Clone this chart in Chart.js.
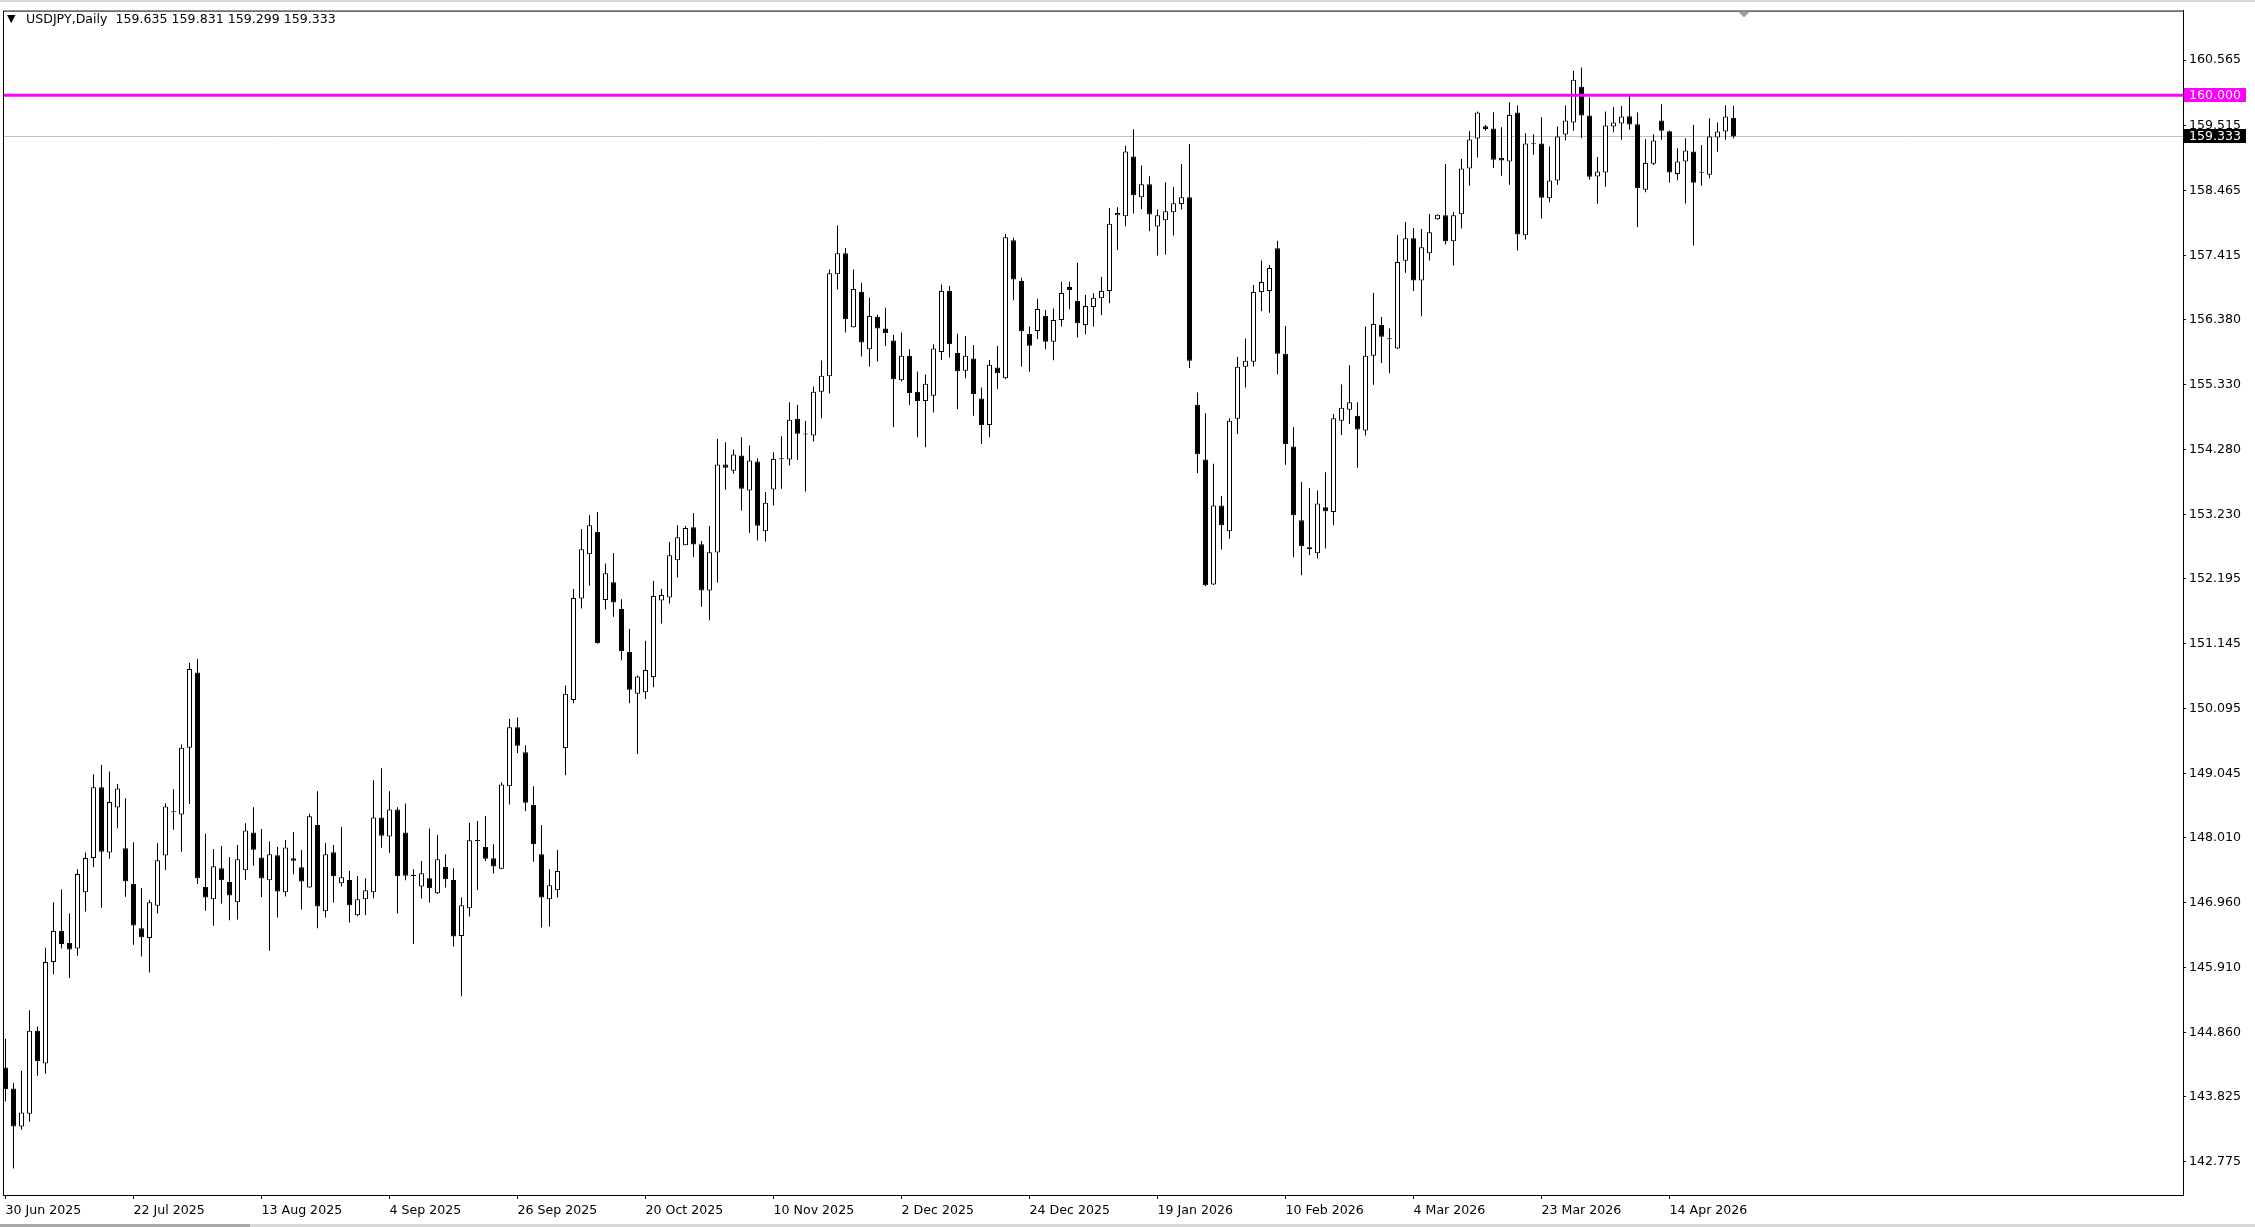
<!DOCTYPE html>
<html>
<head>
<meta charset="utf-8">
<title>USDJPY,Daily</title>
<script src="https://cdn.jsdelivr.net/npm/chart.js@4.4.1/dist/chart.umd.min.js"></script>
<style>
  html, body { margin: 0; padding: 0; background: #fff; overflow: hidden; }
  #wrap { position: relative; width: 2255px; height: 1227px; }
  #hdr { position: absolute; left: 7px; top: 11px; font: 12.6px "DejaVu Sans", sans-serif; color: #000; white-space: pre; }
  #hdr .tri { font-size: 11px; display: inline-block; width: 19px; position: relative; top: -1px; }
</style>
</head>
<body>
<div id="wrap">
  <canvas id="c" width="2255" height="1227"></canvas>
  <div id="hdr"><span class="tri">▼</span>USDJPY,Daily  159.635 159.831 159.299 159.333</div>
</div>
<script>
// Daily bars, 30 Jun 2025 .. 24 Apr 2026
const O = [
  144.296,143.956,143.343,143.551,144.891,144.361,145.999,146.499,146.309,146.219,
  147.125,147.679,148.822,147.768,148.495,147.839,147.262,146.547,146.386,146.910,
  147.720,148.430,148.381,149.459,150.674,147.213,147.014,147.513,147.293,146.966,
  147.481,148.093,147.690,147.320,147.723,147.127,147.674,147.529,147.202,148.211,
  146.821,147.771,147.272,147.325,146.756,147.014,147.127,148.334,148.029,148.463,
  148.093,147.400,147.218,147.353,147.111,147.535,147.326,146.419,146.870,147.960,
  147.857,147.675,147.508,148.840,149.790,149.387,148.534,147.739,147.015,147.159,
  149.457,150.230,151.872,152.586,152.946,151.845,152.135,151.700,151.008,150.331,
  150.358,150.605,151.840,151.888,152.489,152.731,153.021,152.747,152.000,152.613,
  154.035,153.933,154.180,153.616,154.083,152.956,153.633,154.120,154.116,154.776,
  154.518,154.502,155.210,155.462,157.110,157.448,156.251,156.826,155.897,156.423,
  156.230,156.037,155.398,155.790,155.210,155.060,155.146,155.854,156.837,155.838,
  155.548,155.747,155.103,154.673,155.602,155.430,157.659,156.998,156.145,156.193,
  156.435,156.016,156.370,156.902,156.676,156.290,156.580,156.719,156.837,158.061,
  158.045,159.011,158.351,158.560,157.879,157.981,158.109,158.244,158.351,155.000,
  154.116,152.098,153.375,152.956,154.776,155.613,155.694,156.821,156.837,157.530,
  155.823,154.325,153.134,152.699,152.602,153.343,153.268,154.744,154.921,154.824,
  154.583,155.791,156.290,156.060,155.909,157.326,157.690,157.008,157.448,157.996,
  158.060,157.642,158.077,158.817,159.300,159.499,159.461,158.984,158.930,159.719,
  157.738,159.210,159.220,158.334,158.624,159.365,159.558,160.138,159.671,158.688,
  158.753,159.494,159.542,159.661,159.532,158.474,158.893,159.591,159.419,158.727,
  158.930,159.092,158.750,158.716,159.317,159.414,159.635
];
const H = [
  144.760,144.045,144.242,145.219,144.957,146.231,146.964,147.172,146.785,147.500,
  147.768,149.031,149.185,149.078,148.876,148.643,147.935,147.196,147.006,147.917,
  148.566,148.792,149.513,150.835,150.895,148.071,147.825,147.873,147.696,147.889,
  148.243,148.501,148.147,147.948,147.857,147.969,148.098,147.808,148.394,148.759,
  147.921,147.889,148.179,147.470,147.390,147.352,148.936,149.129,148.759,148.501,
  148.560,147.498,147.632,148.158,148.051,147.739,147.514,147.041,148.249,148.276,
  148.357,147.900,148.904,149.924,149.951,149.500,148.840,148.212,147.498,147.809,
  150.466,152.023,152.994,153.214,153.268,152.436,152.607,151.861,151.384,150.627,
  151.190,152.156,152.028,152.784,153.053,153.042,153.251,152.801,153.042,154.448,
  154.395,154.277,154.475,154.341,154.137,153.590,154.234,154.491,155.039,155.001,
  154.744,155.296,155.715,157.185,157.894,157.534,157.185,156.971,156.729,156.455,
  156.568,156.128,156.166,155.897,155.538,155.489,155.978,156.944,156.917,156.149,
  156.112,155.967,155.280,155.725,155.951,157.760,157.696,157.052,156.263,156.714,
  156.531,156.553,156.988,156.988,157.294,156.773,156.800,157.068,158.179,158.190,
  159.183,159.451,158.866,158.689,158.152,158.593,158.517,158.888,159.210,155.200,
  154.862,154.046,153.525,154.782,155.774,156.070,156.934,157.331,157.256,157.648,
  156.274,154.637,153.751,153.654,153.617,153.912,154.851,155.329,155.640,155.039,
  156.263,156.810,156.419,156.231,157.744,157.954,157.856,157.840,158.082,158.075,
  158.887,158.114,158.968,159.418,159.735,159.520,159.724,159.483,159.885,159.832,
  159.386,159.370,159.644,159.172,159.494,159.832,160.395,160.449,159.961,159.000,
  159.735,159.805,159.827,160.015,159.720,159.290,159.371,159.854,159.430,159.145,
  159.306,159.521,159.194,159.628,159.559,159.838,159.831
];
const L = [
  143.748,142.664,143.289,143.420,144.165,144.194,145.802,146.219,145.743,146.100,
  146.815,147.530,146.875,147.667,148.161,147.053,146.279,146.088,145.832,146.785,
  147.488,148.137,147.780,148.554,147.262,146.826,146.585,146.944,146.676,146.687,
  147.325,147.556,147.052,146.182,146.719,147.057,147.417,146.848,147.200,146.547,
  146.719,146.960,147.218,146.638,146.740,146.756,147.030,147.846,147.766,146.783,
  147.320,146.290,147.025,146.961,147.100,147.202,146.252,145.447,146.735,147.165,
  147.632,147.428,147.500,148.544,149.376,148.437,147.621,146.558,146.574,147.041,
  149.017,150.181,151.711,152.076,151.140,151.695,151.577,150.874,150.181,149.360,
  150.246,150.439,151.469,151.791,152.210,152.730,152.543,151.738,151.518,152.130,
  153.627,153.885,153.294,152.935,152.806,152.790,153.375,153.643,154.019,154.110,
  153.600,154.405,154.781,155.183,156.863,156.166,156.250,155.779,155.618,155.699,
  155.951,154.636,155.380,154.995,154.475,154.314,154.877,155.725,155.763,154.931,
  155.430,154.824,154.367,154.475,155.253,155.414,156.687,155.619,155.533,156.059,
  155.898,155.721,156.263,156.542,156.086,156.139,156.263,156.445,156.639,157.498,
  157.884,158.088,158.163,157.803,157.412,157.428,157.734,158.152,155.592,153.900,
  152.071,152.090,152.661,152.838,154.529,155.281,155.619,156.510,156.488,155.495,
  154.030,152.538,152.248,152.570,152.516,152.677,153.053,154.513,154.690,153.982,
  154.502,155.324,155.673,155.511,155.900,157.133,156.837,156.429,157.330,157.990,
  157.588,157.250,157.846,158.538,158.994,159.424,158.823,158.699,158.554,157.491,
  157.669,159.037,158.007,158.270,158.554,159.268,159.424,159.306,158.635,158.248,
  158.522,159.403,159.279,159.440,157.868,158.431,158.871,159.279,158.592,158.625,
  158.249,157.572,158.539,158.657,159.086,159.279,159.299
];
const C = [
  143.944,143.343,143.569,144.891,144.403,145.999,146.499,146.291,146.202,147.423,
  147.679,148.822,147.780,148.584,148.804,147.303,146.589,146.398,146.964,147.643,
  148.512,148.420,149.459,150.734,147.351,147.041,147.545,147.320,147.073,147.658,
  148.125,147.814,147.347,147.739,147.137,147.851,147.637,147.299,148.356,146.896,
  147.739,147.384,147.368,146.917,147.014,147.159,148.334,148.039,148.463,147.384,
  147.395,147.390,147.433,147.192,147.659,147.337,146.413,146.918,147.965,147.954,
  147.669,147.541,148.866,149.790,149.494,148.571,147.900,147.041,147.240,147.471,
  150.332,151.878,152.667,153.053,151.148,152.280,151.808,151.024,150.396,150.611,
  150.718,151.910,151.926,152.570,152.860,153.010,152.742,152.001,152.618,154.035,
  153.981,154.196,153.643,154.100,153.047,153.418,154.126,154.130,154.760,154.534,
  154.518,155.210,155.468,157.126,157.448,156.380,156.869,156.005,156.434,156.230,
  156.155,155.414,155.790,155.189,155.060,155.339,155.908,156.837,155.978,155.543,
  155.790,155.173,154.673,155.645,155.511,157.706,157.025,156.188,155.952,156.548,
  156.016,156.370,156.805,156.853,156.317,156.596,156.730,156.837,157.922,158.099,
  159.092,158.383,158.560,158.072,158.061,158.126,158.254,158.351,155.710,154.200,
  152.087,153.375,153.053,154.744,155.613,155.710,156.821,156.982,157.208,155.823,
  154.368,153.214,152.715,152.667,153.407,153.279,154.782,154.953,155.039,154.599,
  155.791,156.306,156.097,156.059,157.304,157.691,157.008,157.545,157.787,158.071,
  157.642,158.060,158.817,159.284,159.719,159.456,158.957,158.946,159.681,157.749,
  159.220,159.209,158.345,158.624,159.333,159.590,160.250,159.671,158.683,158.769,
  159.510,159.559,159.655,159.526,158.501,158.904,159.269,159.424,158.753,158.930,
  159.108,158.587,158.748,159.333,159.414,159.655,159.333
];

// x axis: a date label every 16 bars
const dateIdx = [0, 16, 32, 48, 64, 80, 96, 112, 128, 144, 160, 176, 192, 208];
const dateLabels = ['30 Jun 2025', '22 Jul 2025', '13 Aug 2025', '4 Sep 2025', '26 Sep 2025',
  '20 Oct 2025', '10 Nov 2025', '2 Dec 2025', '24 Dec 2025', '19 Jan 2026', '10 Feb 2026',
  '4 Mar 2026', '23 Mar 2026', '14 Apr 2026'];

// right price scale
const yTicks = [160.565, 159.515, 158.465, 157.415, 156.380, 155.330, 154.280, 153.230, 152.195,
  151.145, 150.095, 149.045, 148.010, 146.960, 145.910, 144.860, 143.825, 142.775];

const levelPrice = 160.000;   // horizontal line
const bidPrice = 159.333;     // last close

const X_MIN = -0.3125, X_MAX = 272.1875;
const Y_MIN = 142.237, Y_MAX = 161.367;
const FONT = { family: 'DejaVu Sans', size: 12.6 };

const wicks = O.map((o, i) => ({ x: i, y: [L[i], H[i]] }));
const bodies = O.map((o, i) => ({ x: i, y: [Math.min(o, C[i]), Math.max(o, C[i])] }));
const bodyFill = O.map((o, i) => (C[i] >= o ? '#ffffff' : '#000000'));

// frame, price tags, window edges and the chart shift marker
const mtDecor = {
  id: 'mtDecor',
  afterDraw(chart) {
    const { ctx, chartArea: a, scales, width, height } = chart;
    ctx.save();
    ctx.strokeStyle = '#000';
    ctx.lineWidth = 1;
    ctx.strokeRect(a.left + 0.5, a.top + 0.5, a.right - a.left, a.bottom - a.top);

    // thin window edges top and bottom
    ctx.fillStyle = '#d8d8d8';
    ctx.fillRect(0, 0, width, 2);
    ctx.fillRect(0, height - 3, width, 3);
    ctx.fillStyle = '#a8a8a8';
    ctx.fillRect(0, height - 3, 250, 3);

    function tag(v, bg, fg) {
      const py = Math.round(scales.y.getPixelForValue(v));
      ctx.fillStyle = bg;
      ctx.fillRect(a.right + 1, py - 7, 62, 14);
      ctx.fillStyle = fg;
      ctx.font = '12.6px "DejaVu Sans"';
      ctx.textBaseline = 'middle';
      ctx.textAlign = 'left';
      ctx.fillText(v.toFixed(3), a.right + 6, py + 1);
    }
    tag(levelPrice, '#ff00ff', '#ffffff');
    tag(bidPrice, '#000000', '#ffffff');

    // small grey triangle at the top border (chart shift)
    const sx = Math.round(scales.x.getPixelForValue(217.3));
    ctx.fillStyle = '#a0a0a0';
    ctx.beginPath();
    ctx.moveTo(sx - 6, a.top + 1);
    ctx.lineTo(sx + 6, a.top + 1);
    ctx.lineTo(sx, a.top + 7);
    ctx.closePath();
    ctx.fill();
    ctx.restore();
  }
};

new Chart(document.getElementById('c'), {
  type: 'bar',
  data: {
    datasets: [
      {
        type: 'line', data: [{ x: X_MIN, y: levelPrice }, { x: X_MAX, y: levelPrice }],
        borderColor: '#ff00ff', borderWidth: 3, pointRadius: 0, order: 0
      },
      {
        data: bodies, backgroundColor: bodyFill, borderColor: '#000', borderWidth: 1,
        borderSkipped: false, barThickness: 5, minBarLength: 1, inflateAmount: 0,
        grouped: false, order: 1
      },
      {
        data: wicks, backgroundColor: '#000', borderWidth: 0, barThickness: 1,
        inflateAmount: 0, grouped: false, order: 2
      },
      {
        type: 'line', data: [{ x: X_MIN, y: bidPrice }, { x: X_MAX, y: bidPrice }],
        borderColor: '#c0c0c0', borderWidth: 1, pointRadius: 0, order: 3
      }
    ]
  },
  options: {
    responsive: false,
    animation: false,
    devicePixelRatio: 1,
    layout: { padding: { left: 3, top: 7, right: 0, bottom: 0 } },
    plugins: { legend: { display: false }, tooltip: { enabled: false } },
    scales: {
      x: {
        type: 'linear', min: X_MIN, max: X_MAX, position: 'bottom', offset: false,
        grid: { offset: false, drawOnChartArea: false, drawTicks: true, tickLength: 4, color: '#000' },
        border: { display: true, color: '#000' },
        afterBuildTicks: (s) => { s.ticks = dateIdx.map(v => ({ value: v })); },
        afterFit: (s) => { s.height = 32; },
        ticks: {
          autoSkip: false, maxRotation: 0, align: 'start', padding: 4,
          color: '#000', font: FONT,
          callback: (v, i) => dateLabels[i]
        }
      },
      y: {
        position: 'right', min: Y_MIN, max: Y_MAX,
        grid: { drawOnChartArea: false, drawTicks: true, tickLength: 3, color: '#000' },
        border: { display: true, color: '#000' },
        afterBuildTicks: (s) => { s.ticks = yTicks.map(v => ({ value: v })); },
        afterFit: (s) => { s.width = 72; },
        ticks: {
          autoSkip: false, padding: 3, color: '#000', font: FONT,
          callback: (v) => Number(v).toFixed(3)
        }
      }
    }
  },
  plugins: [mtDecor]
});
</script>
</body>
</html>
